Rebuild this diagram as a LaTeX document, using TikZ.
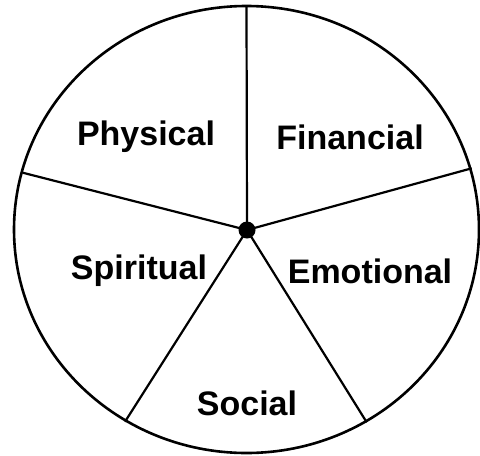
\documentclass[tikz,border=0pt]{standalone}
\usepackage{fontspec}
\setmainfont{Liberation Sans}
\usetikzlibrary{positioning}

\begin{document}
\begin{tikzpicture}[
  x=0.5pt,y=-0.5pt,
  rim/.style={line width=1.3pt},
  spoke/.style={line width=1.1pt},
  hub/.style={circle,fill=black,inner sep=0pt,minimum size=8.5pt},
  lbl/.style={font=\fontsize{17}{20}\selectfont\bfseries}
]
\useasboundingbox (0,0) rectangle (480,455);
\draw[rim] (246.5,229.5) ellipse [x radius=232.5,y radius=223.5];
\node[hub] (c) at (247,230) {};
% rim points of the five spokes
\coordinate (top) at (246.5,6);
\coordinate (rt) at (471.7,168.3);
\coordinate (br) at (366.7,422.3);
\coordinate (bl) at (125,421.7);
\coordinate (lf) at (22.7,172.7);
\foreach \p in {top,rt,br,bl,lf}
  \draw[spoke] (c.center) -- (\p);
\node[lbl] (phys) at (146,137) {Physical};
\node[lbl] (fin) at (350,137) {Financial};
\node[lbl] (spir) at (139,271) {Spiritual};
\node[lbl] (emo) at (370,271) {Emotional};
\node[lbl] (soc) at (247,403) {Social};
\end{tikzpicture}
\end{document}
